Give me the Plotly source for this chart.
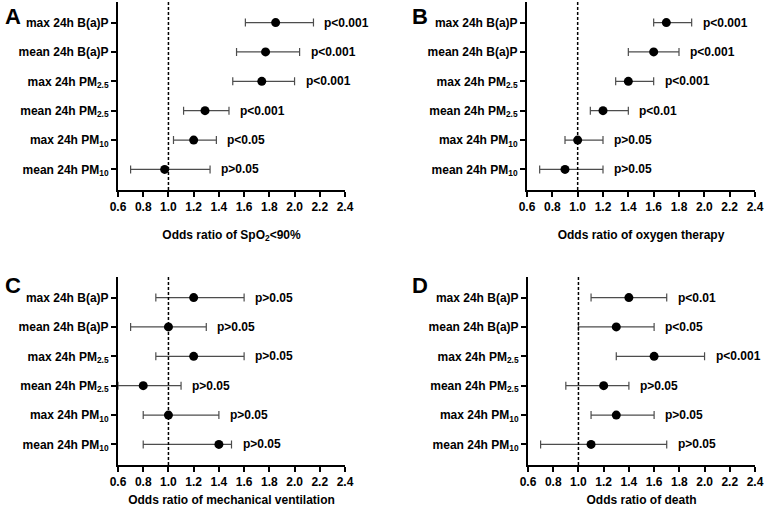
import plotly.graph_objects as go

categories = ["max 24h B(a)P", "mean 24h B(a)P", "max 24h PM<sub>2.5</sub>",
              "mean 24h PM<sub>2.5</sub>", "max 24h PM<sub>10</sub>", "mean 24h PM<sub>10</sub>"]

# Panel A: SpO2<90%
a_or = [1.85, 1.77, 1.74, 1.29, 1.20, 0.97]
a_lo = [1.61, 1.54, 1.51, 1.12, 1.04, 0.70]
a_hi = [2.15, 2.04, 2.00, 1.48, 1.38, 1.33]
a_p = ["p<0.001", "p<0.001", "p<0.001", "p<0.001", "p<0.05", "p>0.05"]

# Panel B: oxygen therapy
b_or = [1.70, 1.60, 1.40, 1.20, 1.00, 0.90]
b_lo = [1.60, 1.40, 1.30, 1.10, 0.90, 0.70]
b_hi = [1.90, 1.80, 1.60, 1.40, 1.20, 1.20]
b_p = ["p<0.001", "p<0.001", "p<0.001", "p<0.01", "p>0.05", "p>0.05"]

# Panel C: mechanical ventilation
c_or = [1.20, 1.00, 1.20, 0.80, 1.00, 1.40]
c_lo = [0.90, 0.70, 0.90, 0.60, 0.80, 0.80]
c_hi = [1.60, 1.30, 1.60, 1.10, 1.40, 1.50]
c_p = ["p>0.05", "p>0.05", "p>0.05", "p>0.05", "p>0.05", "p>0.05"]

# Panel D: death
d_or = [1.40, 1.30, 1.60, 1.20, 1.30, 1.10]
d_lo = [1.10, 1.00, 1.30, 0.90, 1.10, 0.70]
d_hi = [1.70, 1.60, 2.00, 1.40, 1.60, 1.70]
d_p = ["p<0.01", "p<0.05", "p<0.001", "p>0.05", "p>0.05", "p>0.05"]

titles = ["Odds ratio of SpO<sub>2</sub>&lt;90%", "Odds ratio of oxygen therapy",
          "Odds ratio of mechanical ventilation", "Odds ratio of death"]
letters = ["A", "B", "C", "D"]
x_ticks = [0.6, 0.8, 1.0, 1.2, 1.4, 1.6, 1.8, 2.0, 2.2, 2.4]

W, H = 764, 507
FONT = "Liberation Sans"

panels = [
    (a_or, a_lo, a_hi, a_p, (118, 345), (2, 190)),
    (b_or, b_lo, b_hi, b_p, (527, 755), (2, 190)),
    (c_or, c_lo, c_hi, c_p, (118, 345), (277, 465)),
    (d_or, d_lo, d_hi, d_p, (528, 755), (277, 465)),
]
letter_pos = [(13, 16), (420, 16), (13, 285), (420, 285)]

fig = go.Figure()
annotations = []
shapes = []
for i, (orv, lo, hi, pv, (x0, x1), (y0, y1)) in enumerate(panels):
    n = i + 1
    xa = "x" if n == 1 else f"x{n}"
    ya = "y" if n == 1 else f"y{n}"
    fig.add_trace(go.Scatter(
        x=orv, y=categories, xaxis=xa, yaxis=ya, mode="markers",
        marker=dict(color="black", size=9),
        error_x=dict(type="data", symmetric=False,
                     array=[h - o for h, o in zip(hi, orv)],
                     arrayminus=[o - l for o, l in zip(orv, lo)],
                     color="#4d4d4d", thickness=1.2, width=4),
        showlegend=False, cliponaxis=False,
    ))
    xkey = "xaxis" if n == 1 else f"xaxis{n}"
    ykey = "yaxis" if n == 1 else f"yaxis{n}"
    fig.update_layout(**{
        xkey: dict(domain=[x0 / W, x1 / W], anchor=ya, range=[0.6, 2.4],
                   tickvals=x_ticks, tickformat=".1f", showline=True, automargin=False,
                   linecolor="black", linewidth=2, ticks="outside", ticklen=5,
                   tickwidth=2, tickcolor="black", showgrid=False, zeroline=False,
                   tickfont=dict(family=FONT, size=12, color="black", weight="bold"),
                   title=dict(text=titles[i], standoff=17,
                              font=dict(family=FONT, size=12, color="black", weight="bold"))),
        ykey: dict(domain=[1 - y1 / H, 1 - y0 / H], anchor=xa, type="category",
                   categoryarray=categories, range=[5.7, -0.7], showline=True,
                   automargin=False,
                   linecolor="black", linewidth=2, ticks="outside", ticklen=5,
                   tickwidth=2, tickcolor="black", showgrid=False, zeroline=False,
                   tickfont=dict(family=FONT, size=12, color="black", weight="bold")),
    })
    shapes.append(dict(type="line", xref=xa, yref=f"{ya} domain", x0=1.0, x1=1.0,
                       y0=0, y1=1, line=dict(color="black", width=1.5, dash="3px,2px")))
    for cat, h, p in zip(categories, hi, pv):
        annotations.append(dict(x=h, y=cat, xref=xa, yref=ya, text=p.replace("<", "&lt;"),
                                showarrow=False, xanchor="left", xshift=9,
                                font=dict(family=FONT, size=12, color="black", weight="bold")))
    lx, ly = letter_pos[i]
    annotations.append(dict(x=lx / W, y=1 - ly / H, xref="paper", yref="paper",
                            text=letters[i], showarrow=False, xanchor="center",
                            yanchor="middle",
                            font=dict(family=FONT, size=22, color="black", weight="bold")))

fig.update_layout(width=W, height=H, margin=dict(l=0, r=0, t=0, b=0),
                  paper_bgcolor="white", plot_bgcolor="white", hovermode=False,
                  annotations=annotations, shapes=shapes)
fig.write_html("out.html", config={"displayModeBar": False, "staticPlot": True},
               post_script="document.body.style.margin='0px';document.body.style.overflow='hidden';")
